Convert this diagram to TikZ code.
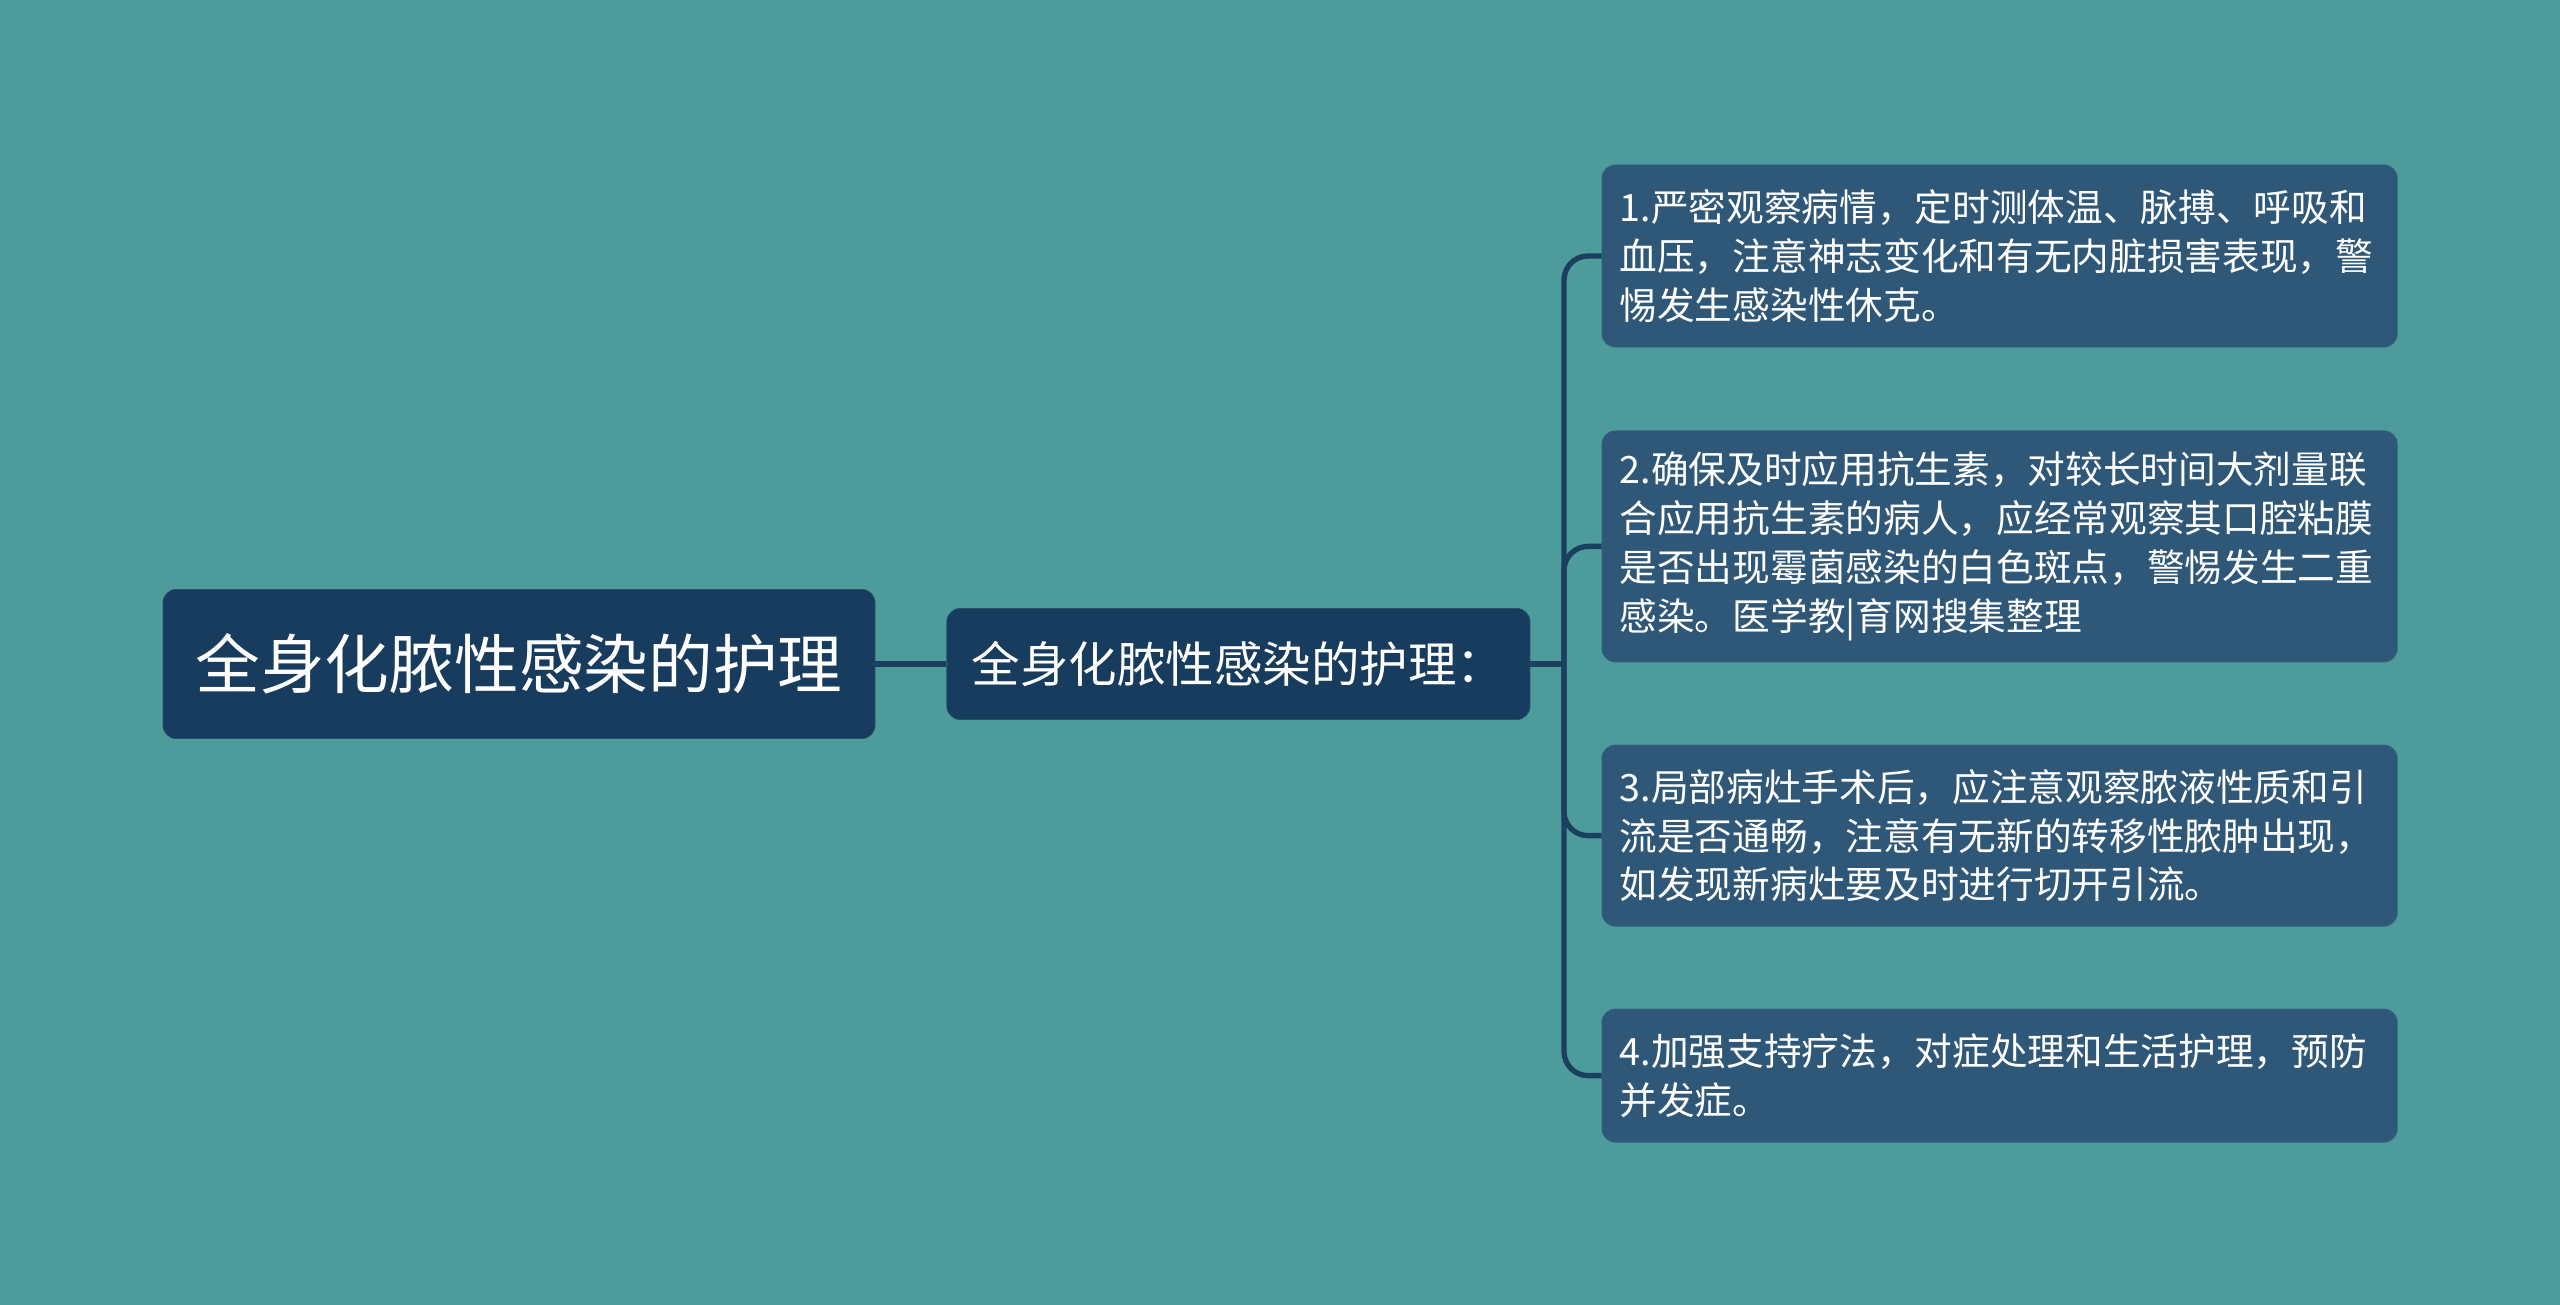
\documentclass[tikz,border=0pt]{standalone}
\usepackage{fontspec}
\newfontfamily\cjk{Noto Sans CJK SC}
\usetikzlibrary{positioning}
\definecolor{bgteal}{HTML}{4D9C9B}
\definecolor{rootnavy}{HTML}{173C5D}
\definecolor{leafblue}{HTML}{2E5778}
\definecolor{linknavy}{HTML}{1B3F5E}
\newcommand\trunkx{39.1}
\newcommand\my{-16.6}

\begin{document}
\begin{tikzpicture}[
    rootbox/.style={rectangle, rounded corners=0.33cm, fill=rootnavy, text=white, draw=rootnavy!80!bgteal, line width=0.6pt},
    leafbox/.style={rectangle, rounded corners=0.33cm, fill=leafblue, text=white, draw=leafblue!85!bgteal, line width=0.6pt,
        text width=19.0cm, inner xsep=0.44cm, align=left, font=\cjk\fontsize{26.8pt}{34.8pt}\selectfont},
    link/.style={draw=linknavy, line width=3.8pt}]
    \useasboundingbox (0,0) rectangle (64,-32.625);
    \fill[bgteal] (0,0) rectangle (64,-32.625);

    \node at (12.975, \my) [rootbox, minimum width=17.8cm, minimum height=3.725cm, font=\cjk\fontsize{46pt}{55pt}\selectfont] (root) {全身化脓性感染的护理};

\node at (30.96, \my) [rootbox, minimum width=14.575cm, minimum height=2.775cm, font=\cjk\fontsize{34.5pt}{42pt}\selectfont] (mid) {全身化脓性感染的护理：};

    %care points on the right
    \node at (49.99, -6.4) [leafbox, minimum height=4.55cm] (p1) {1.严密观察病情，定时测体温、脉搏、呼吸和\\血压，注意神志变化和有无内脏损害表现，警\\惕发生感染性休克。};
    \node at (49.99, -13.66) [leafbox, minimum height=5.775cm] (p2) {2.确保及时应用抗生素，对较长时间大剂量联\\合应用抗生素的病人，应经常观察其口腔粘膜\\是否出现霉菌感染的白色斑点，警惕发生二重\\感染。医学教|育网搜集整理};
    \node at (49.99, -20.89) [leafbox, minimum height=4.525cm] (p3) {3.局部病灶手术后，应注意观察脓液性质和引\\流是否通畅，注意有无新的转移性脓肿出现，\\如发现新病灶要及时进行切开引流。};
    \node at (49.99, -26.89) [leafbox, minimum height=3.325cm] (p4) {4.加强支持疗法，对症处理和生活护理，预防\\并发症。};

    \coordinate (hub) at (\trunkx, \my);

    %links
    \draw [link] (root.east) -- (mid.west);
    \draw [link] (mid.east) -- (hub);
    \draw [link, rounded corners=0.6cm] (hub) |- (p1.west);
    \draw [link, rounded corners=0.6cm] (hub) |- (p2.west);
    \draw [link, rounded corners=0.6cm] (hub) |- (p3.west);
    \draw [link, rounded corners=0.6cm] (hub) |- (p4.west);
\end{tikzpicture}
\end{document}
